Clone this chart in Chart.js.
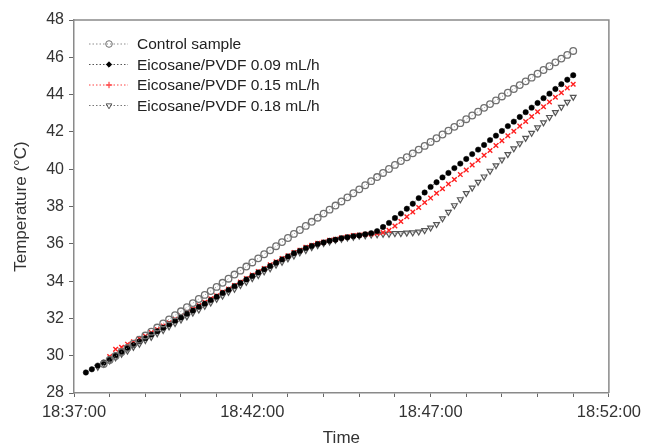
<!DOCTYPE html>
<html>
<head>
<meta charset="utf-8">
<script src="https://cdn.jsdelivr.net/npm/chart.js@4/dist/chart.umd.min.js"></script>
<style>
  html, body { margin: 0; padding: 0; background: #fff; }
  #wrap { width: 647px; height: 447px; }
</style>
</head>
<body>
<div id="wrap"><canvas id="chart"></canvas></div>
<script>
// seconds after 18:37:00, one reading every 10 s
const seconds = [20, 30, 40, 50, 60, 70, 80, 90, 100, 110, 120, 130, 140, 150, 160, 170, 180, 190, 200, 210,
  220, 230, 240, 250, 260, 270, 280, 290, 300, 310, 320, 330, 340, 350, 360, 370, 380, 390, 400, 410,
  420, 430, 440, 450, 460, 470, 480, 490, 500, 510, 520, 530, 540, 550, 560, 570, 580, 590, 600, 610,
  620, 630, 640, 650, 660, 670, 680, 690, 700, 710, 720, 730, 740, 750, 760, 770, 780, 790, 800, 810,
  820, 830, 840];

const seriesNames = ['Control sample', 'Eicosane/PVDF 0.09 mL/h', 'Eicosane/PVDF 0.15 mL/h', 'Eicosane/PVDF 0.18 mL/h'];

const controlTemp = [null, null, null, 29.55, 29.77, 29.99, 30.20, 30.42, 30.64, 30.86, 31.08, 31.29, 31.51, 31.73, 31.95, 32.17, 32.38, 32.60, 32.82, 33.04,
  33.26, 33.47, 33.69, 33.91, 34.13, 34.35, 34.56, 34.78, 35.00, 35.22, 35.44, 35.65, 35.87, 36.09, 36.31, 36.53, 36.74, 36.96, 37.18, 37.40,
  37.62, 37.83, 38.05, 38.27, 38.49, 38.71, 38.92, 39.14, 39.36, 39.58, 39.80, 40.01, 40.23, 40.44, 40.64, 40.85, 41.05, 41.25, 41.46, 41.66,
  41.86, 42.07, 42.27, 42.47, 42.68, 42.88, 43.08, 43.29, 43.49, 43.69, 43.90, 44.10, 44.30, 44.51, 44.71, 44.91, 45.12, 45.32, 45.52, 45.73,
  45.93, 46.13, 46.34];

const pvdf009Temp = [29.10, 29.27, 29.47, 29.64, 29.83, 30.03, 30.20, 30.40, 30.57, 30.77, 30.94, 31.14, 31.31, 31.50, 31.68, 31.88, 32.05, 32.25, 32.42, 32.62,
  32.79, 32.98, 33.16, 33.36, 33.53, 33.73, 33.90, 34.09, 34.27, 34.46, 34.63, 34.81, 34.98, 35.16, 35.32, 35.49, 35.62, 35.77, 35.88, 35.99,
  36.07, 36.16, 36.22, 36.30, 36.35, 36.41, 36.45, 36.51, 36.57, 36.68, 36.90, 37.12, 37.38, 37.62, 37.88, 38.15, 38.45, 38.75, 39.05, 39.30,
  39.56, 39.80, 40.06, 40.30, 40.55, 40.81, 41.05, 41.30, 41.56, 41.80, 42.05, 42.31, 42.55, 42.80, 43.06, 43.30, 43.55, 43.81, 44.05, 44.30,
  44.56, 44.80, 45.04];

const pvdf015Temp = [null, null, null, null, 29.95, 30.35, 30.45, 30.62, 30.75, 30.92, 31.05, 31.24, 31.40, 31.59, 31.76, 31.96, 32.13, 32.33, 32.50, 32.69,
  32.86, 33.05, 33.22, 33.41, 33.58, 33.77, 33.95, 34.14, 34.32, 34.51, 34.68, 34.87, 35.04, 35.21, 35.36, 35.53, 35.66, 35.81, 35.92, 36.03,
  36.10, 36.19, 36.25, 36.33, 36.38, 36.44, 36.47, 36.51, 36.52, 36.56, 36.60, 36.72, 36.95, 37.20, 37.45, 37.71, 37.95, 38.21, 38.45, 38.71,
  38.95, 39.21, 39.45, 39.71, 39.96, 40.23, 40.48, 40.75, 41.00, 41.27, 41.52, 41.79, 42.04, 42.31, 42.56, 42.83, 43.08, 43.35, 43.60, 43.86,
  44.10, 44.36, 44.55];

const pvdf018Temp = [null, null, 29.40, 29.56, 29.73, 29.90, 30.09, 30.26, 30.46, 30.63, 30.83, 31.00, 31.19, 31.37, 31.56, 31.74, 31.93, 32.10, 32.30, 32.47,
  32.67, 32.84, 33.04, 33.21, 33.41, 33.58, 33.78, 33.95, 34.15, 34.32, 34.51, 34.68, 34.87, 35.03, 35.21, 35.36, 35.53, 35.66, 35.81, 35.92,
  36.03, 36.11, 36.20, 36.26, 36.33, 36.37, 36.43, 36.45, 36.49, 36.50, 36.53, 36.53, 36.56, 36.56, 36.59, 36.60, 36.65, 36.72, 36.86, 37.05,
  37.36, 37.70, 38.06, 38.38, 38.71, 39.00, 39.31, 39.60, 39.91, 40.20, 40.51, 40.80, 41.11, 41.38, 41.67, 41.94, 42.23, 42.50, 42.79, 43.05,
  43.33, 43.60, 43.87];

const xTickLabels = ['18:37:00', '18:42:00', '18:47:00', '18:52:00'];

const FONT = "'Liberation Sans', Arial, sans-serif";

function toPoints(values) {
  const pts = [];
  values.forEach((v, i) => {
    if (v !== null) pts.push({ x: seconds[i], y: v });
  });
  return pts;
}

// draws top and right edges of the frame
const framePlugin = {
  id: 'frame',
  afterDraw(chart) {
    const { ctx, chartArea } = chart;
    ctx.save();
    ctx.strokeStyle = '#8a8a8a';
    ctx.lineWidth = 1.5;
    ctx.beginPath();
    ctx.moveTo(chartArea.left, chartArea.top);
    ctx.lineTo(chartArea.right, chartArea.top);
    ctx.lineTo(chartArea.right, chartArea.bottom);
    ctx.stroke();
    ctx.restore();
  }
};

// legend drawn like the original: dotted line with the symbol in the middle
const legendPlugin = {
  id: 'lineLegend',
  afterDraw(chart) {
    const ctx = chart.ctx;
    chart.data.datasets.forEach((ds, i) => {
      const y = 44 + i * 20.5;
      ctx.save();
      ctx.strokeStyle = ds.borderColor;
      ctx.lineWidth = 1;
      ctx.setLineDash([1.5, 2]);
      ctx.beginPath();
      ctx.moveTo(89, y);
      ctx.lineTo(128, y);
      ctx.stroke();
      ctx.setLineDash([]);
      ctx.fillStyle = ds.pointBackgroundColor;
      ctx.strokeStyle = ds.pointBorderColor;
      ctx.lineWidth = 1;
      Chart.helpers.drawPoint(ctx, {
        pointStyle: ds.legendStyle,
        radius: ds.pointRadius,
        rotation: ds.pointRotation || 0,
        borderWidth: 1
      }, 109, y);
      ctx.fillStyle = '#222';
      ctx.font = '15.5px ' + FONT;
      ctx.textBaseline = 'middle';
      ctx.textAlign = 'left';
      ctx.fillText(ds.label, 137, y + 1);
      ctx.restore();
    });
  }
};

const ctx = document.getElementById('chart').getContext('2d');
new Chart(ctx, {
  type: 'line',
  data: {
    datasets: [
      {
        label: seriesNames[0],
        data: toPoints(controlTemp),
        borderColor: '#8c8c8c',
        borderWidth: 1,
        borderDash: [1, 2],
        pointStyle: 'circle',
        legendStyle: 'circle',
        pointRadius: 3.3,
        pointBorderWidth: 1.3,
        pointBorderColor: '#707070',
        pointBackgroundColor: 'rgba(255,255,255,0)'
      },
      {
        label: seriesNames[1],
        data: toPoints(pvdf009Temp),
        borderColor: '#555',
        borderWidth: 1,
        borderDash: [1, 2],
        pointStyle: 'circle',
        legendStyle: 'rectRot',
        pointRadius: 2.7,
        pointBorderWidth: 0.5,
        pointBorderColor: '#000',
        pointBackgroundColor: '#000'
      },
      {
        label: seriesNames[2],
        data: toPoints(pvdf015Temp),
        borderColor: '#ff4040',
        borderWidth: 1,
        borderDash: [1, 2],
        pointStyle: 'crossRot',
        legendStyle: 'cross',
        pointRadius: 3.2,
        pointBorderWidth: 1.4,
        pointBorderColor: '#ff2020',
        pointBackgroundColor: '#ff2020'
      },
      {
        label: seriesNames[3],
        data: toPoints(pvdf018Temp),
        borderColor: '#777',
        borderWidth: 1,
        borderDash: [1, 2],
        pointStyle: 'triangle',
        legendStyle: 'triangle',
        pointRotation: 180,
        pointRadius: 3.3,
        pointBorderWidth: 1.2,
        pointBorderColor: '#555',
        pointBackgroundColor: 'rgba(255,255,255,0)'
      }
    ]
  },
  options: {
    responsive: true,
    maintainAspectRatio: false,
    animation: false,
    layout: { padding: { left: 0, right: 38, top: 20, bottom: 0 } },
    plugins: {
      legend: { display: false },
      tooltip: { enabled: false }
    },
    scales: {
      x: {
        type: 'linear',
        min: 0,
        max: 900,
        afterFit: scale => { scale.height = 54; },
        border: { color: '#8a8a8a', width: 1.5 },
        grid: { drawOnChartArea: false, tickLength: 4, color: '#666', tickWidth: 1 },
        ticks: {
          stepSize: 60,
          autoSkip: false,
          maxRotation: 0,
          padding: 6,
          color: '#333',
          font: { family: FONT, size: 16.5 },
          callback: v => (v % 300 === 0 ? xTickLabels[v / 300] : '')
        },
        title: {
          display: true,
          text: 'Time',
          color: '#333',
          font: { family: FONT, size: 17, lineHeight: 1 },
          padding: { top: 0, bottom: 0 }
        }
      },
      y: {
        min: 28,
        max: 48,
        afterFit: scale => { scale.width = 74; },
        border: { color: '#8a8a8a', width: 1.5 },
        grid: { drawOnChartArea: false, tickLength: 5, color: '#666', tickWidth: 1 },
        ticks: {
          stepSize: 2,
          padding: 5,
          color: '#333',
          font: { family: FONT, size: 16 }
        },
        title: {
          display: true,
          text: 'Temperature (\u00B0C)',
          color: '#333',
          font: { family: FONT, size: 17, lineHeight: 1.2 },
          padding: { top: 11, bottom: 0 }
        }
      }
    }
  },
  plugins: [framePlugin, legendPlugin]
});
</script>
</body>
</html>
